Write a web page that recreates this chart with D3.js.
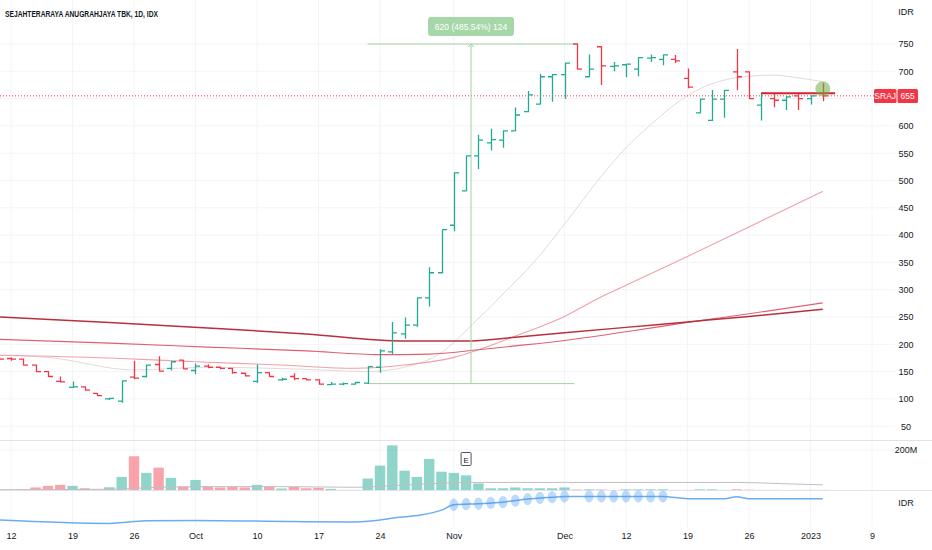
<!DOCTYPE html>
<html>
<head>
<meta charset="utf-8">
<script src="https://cdn.jsdelivr.net/npm/d3@7"></script>
<style>
    body { margin: 0; background: #ffffff; }
    svg { display: block; font-family: "Liberation Sans Narrow", "Liberation Sans", Arial, sans-serif; }
</style>
</head>
<body>
<svg id="chart" width="932" height="550"></svg>
<script>
// =============================================================================
// data
// =============================================================================
var title = "SEJAHTERARAYA ANUGRAHJAYA TBK, 1D, IDX";
var firstIndex = -1;   // index of the first bar, 0 = Sep 12

var opens  = [176,174,173,162,150,132,121,122,110,100, 96,140,141,163,156,171,152,160,158,156,147,132,148,135,141,137,135,126,127,127,129,158,186,219,235,285,331,418,481,545,569,574,591,626,640,690,694,750,690,745,709,712,704,724,722,722,687,624,610,649,699,699,638,650,647,655,650,660];
var highs  = [177,175,173,162,150,140,131,122,110,101,133,169,162,177,168,171,164,162,158,156,147,162,148,138,146,137,135,130,129,130,159,190,240,248,285,340,410,514,545,583,594,591,633,663,694,694,715,750,730,745,716,713,725,730,730,729,704,649,665,665,740,699,660,660,654,660,655,678];
var lows   = [172,171,162,150,141,131,121,116,106, 99, 94,137,140,151,153,155,146,157,155,147,142,130,141,134,135,135,127,126,126,127,128,149,183,211,233,270,331,408,481,522,556,561,591,626,640,645,650,704,690,676,701,690,692,718,712,716,670,624,610,616,666,650,611,635,630,630,640,646];
var closes = [173,173,162,150,141,131,122,116,106,101,133,138,162,151,168,155,160,158,156,148,142,148,141,136,137,135,127,127,128,130,159,188,221,235,285,331,410,514,545,574,575,591,620,657,690,694,715,704,704,710,710,713,725,725,730,719,671,649,649,665,690,650,660,647,653,650,655,655];
var volumes = [3,3,6,15,23,28,23,11,6,16,67,169,87,113,62,20,52,18,15,18,15,28,18,10,18,11,13,8,3,3,59,123,223,98,67,156,93,87,75,35,11,11,15,11,11,11,15,5,6,5,2,6,6,6,6,3,3,6,6,3,6,4,3,3,2,3,3,3];

// moving averages on price, [bar index, value]
var ma200Pts = [[-1,250],[8,240],[16,230],[24,219],[32,206],[37,206],[41,213],[45,221],[50,231],[55,241],[60,251],[66,264]];
var ma100Pts = [[-1,209],[8,202],[16,195],[24,188],[30,181],[34,182],[38,190],[41,197],[45,207],[50,223],[55,240],[60,256],[66,276]];
var ma50Pts  = [[-1,180],[8,175],[15,168],[22,162],[28,156],[32,162],[36,176],[38,190],[41,215],[45,251],[48,287],[50,308],[55,361],[60,415],[66,480]];
var ma20Pts  = [[-1,180],[3,176],[10,153],[16,158],[24,154],[29,150],[32,158],[35,185],[37.5,236],[40,292],[42.5,350],[45,420],[48,508],[50,560],[52,602],[54,640],[56,668],[58,684],[60,691],[62,693],[64,688],[66,681]];

// volume average, [bar index, millions]
var volMaPts = [[-1,4],[8,6],[12,16],[16,19],[22,19],[28,16],[31,24],[34,33],[37,40],[45,40],[52,40],[59,40],[63,33],[66,28]];

// lower pane indicator, [bar index, value]
var indPts = [[-1,2.1],[8,1.2],[11,1.9],[15,2.0],[23,1.7],[28,1.6],[31.6,2.8],[33.3,3.4],[35,4.7],[36,6.1],[38,6.4],[40,6.8],[42,7.6],[43,7.9],[44,8.1],[45,8.3],[53,8.3],[55,7.7],[58,7.7],[59,8.2],[60,7.7],[66,7.7]];
var indMarkers = [[36,6.1],[37,6.3],[38,6.4],[39,6.6],[40,6.8],[41,7.2],[42,7.6],[43,7.9],[44,8.1],[45,8.3],[47,8.3],[48,8.3],[49,8.3],[50,8.3],[51,8.3],[52,8.3],[53,8.3]];

// axes
var priceGrid = [50,100,150,200,250,300,350,400,450,500,550,600,650,700,750];
var priceLabels = [50,100,150,200,250,300,350,400,450,500,550,600,700,750];   // 650 sits under the badge
var dateTickIdx = [0,5,10,15,20,25,30,36,45,50,55,60,65,70];
var dateTickLabels = ["12","19","26","Oct","10","17","24","Nov","Dec","12","19","26","2023","9"];

// drawings
var lastPrice = 655;
var measureLow = 128, measureHigh = 750, measureFrom = 29, measureTo = 45.8;
var measureText = "620 (485.54%) 124";
var levelPrice = 660, levelFrom = 61, levelTo = 67;
var earningsIdx = 37;

// =============================================================================
// colours
// =============================================================================
var UP = "#22ab94", DOWN = "#f23645";
var UP_VOL = "rgba(34,171,148,0.5)", DOWN_VOL = "rgba(242,54,69,0.45)";
var GRID = "#f2f4f9", SEP = "#e0e3eb", TEXT = "#131722";

// =============================================================================
// scales
// =============================================================================
var plotRight = 895;
var x = d3.scaleLinear().domain([0, 70]).range([11, 872]);
var y = d3.scaleLinear().domain([50, 750]).range([426.2, 44]);
var yVol = d3.scaleLinear().domain([0, 200]).range([490.5, 450]);
var yInd = d3.scaleLinear().domain([0, 10]).range([528, 490]);

var bars = opens.map(function (o, k) {
    return { i: firstIndex + k, o: o, h: highs[k], l: lows[k], c: closes[k], v: volumes[k] };
});

var svg = d3.select("#chart");
svg.append("rect").attr("width", 932).attr("height", 550).attr("fill", "#ffffff");

var defs = svg.append("defs");
defs.append("clipPath").attr("id", "clipPrice").append("rect")
    .attr("x", 0).attr("y", 0).attr("width", plotRight).attr("height", 440);
defs.append("clipPath").attr("id", "clipVol").append("rect")
    .attr("x", 0).attr("y", 441).attr("width", plotRight).attr("height", 49);
defs.append("clipPath").attr("id", "clipInd").append("rect")
    .attr("x", 0).attr("y", 491).attr("width", plotRight).attr("height", 36);

// grid ========================================================================
var grid = svg.append("g");
grid.selectAll("line.v").data(dateTickIdx).enter().append("line")
    .attr("x1", function (d) { return x(d); }).attr("x2", function (d) { return x(d); })
    .attr("y1", 0).attr("y2", 527)
    .attr("stroke", GRID).attr("stroke-width", 1);
grid.selectAll("line.h").data(priceGrid).enter().append("line")
    .attr("x1", 0).attr("x2", plotRight)
    .attr("y1", function (d) { return y(d); }).attr("y2", function (d) { return y(d); })
    .attr("stroke", GRID).attr("stroke-width", 1);
grid.append("line")
    .attr("x1", 0).attr("x2", plotRight).attr("y1", yVol(200)).attr("y2", yVol(200))
    .attr("stroke", GRID);
[440.5, 490.5].forEach(function (yy) {
    grid.append("line").attr("x1", 0).attr("x2", 932).attr("y1", yy).attr("y2", yy)
        .attr("stroke", SEP).attr("stroke-width", 1);
});

// =============================================================================
// price pane
// =============================================================================
var pricePane = svg.append("g").attr("clip-path", "url(#clipPrice)");

var maLine = d3.line()
    .x(function (d) { return x(d[0]); })
    .y(function (d) { return y(d[1]); })
    .curve(d3.curveMonotoneX);

pricePane.append("path").datum(ma20Pts).attr("d", maLine)
    .attr("fill", "none").attr("stroke", "#e6d8db").attr("stroke-width", 1);
pricePane.append("path").datum(ma50Pts).attr("d", maLine)
    .attr("fill", "none").attr("stroke", "#f0a0a8").attr("stroke-width", 1.1);
pricePane.append("path").datum(ma100Pts).attr("d", maLine)
    .attr("fill", "none").attr("stroke", "#e06072").attr("stroke-width", 1.2);
pricePane.append("path").datum(ma200Pts).attr("d", maLine)
    .attr("fill", "none").attr("stroke", "#b8303c").attr("stroke-width", 1.5);

// last price line
pricePane.append("line")
    .attr("x1", 0).attr("x2", 874).attr("y1", y(lastPrice)).attr("y2", y(lastPrice))
    .attr("stroke", DOWN).attr("stroke-width", 1).attr("stroke-dasharray", "1,2");

// measure tool
var measure = pricePane.append("g").attr("stroke", "#9fd3a1").attr("stroke-width", 1);
var mMid = (measureFrom + measureTo) / 2;
measure.append("line").attr("x1", x(measureFrom)).attr("x2", x(measureTo))
    .attr("y1", y(measureHigh)).attr("y2", y(measureHigh));
measure.append("line").attr("x1", x(measureFrom)).attr("x2", x(measureTo))
    .attr("y1", y(measureLow)).attr("y2", y(measureLow));
measure.append("line").attr("x1", x(mMid)).attr("x2", x(mMid))
    .attr("y1", y(measureHigh)).attr("y2", y(measureLow));
measure.append("path").attr("fill", "none")
    .attr("d", "M" + (x(mMid) - 3) + "," + (y(measureHigh) + 3) + "L" + x(mMid) + "," + y(measureHigh) + "L" + (x(mMid) + 3) + "," + (y(measureHigh) + 3));
svg.append("rect")
    .attr("x", x(mMid) - 43).attr("y", 17).attr("width", 86).attr("height", 19).attr("rx", 3)
    .attr("fill", "#a6d7a8");
svg.append("text")
    .attr("x", x(mMid)).attr("y", 29.5).attr("text-anchor", "middle")
    .attr("font-size", 8.5).attr("fill", "#ffffff")
    .text(measureText);

// OHLC bars
pricePane.selectAll("path.bar").data(bars).enter().append("path")
    .attr("class", "bar")
    .attr("d", function (d) {
        var cx = Math.round(x(d.i)) + 0.5;
        return "M" + (cx - 4.5) + "," + y(d.o) + "H" + cx +
            "M" + cx + "," + (y(d.h) - 0.5) + "V" + (y(d.l) + 0.5) +
            "M" + cx + "," + y(d.c) + "H" + (cx + 4.5);
    })
    .attr("fill", "none")
    .attr("stroke", function (d) { return d.c >= d.o ? UP : DOWN; })
    .attr("stroke-width", 1.3);

// horizontal level drawn on the chart
pricePane.append("line")
    .attr("x1", x(levelFrom)).attr("x2", x(levelTo))
    .attr("y1", y(levelPrice)).attr("y2", y(levelPrice))
    .attr("stroke", "#d8232f").attr("stroke-width", 2);

// highlight on the last bar
pricePane.append("circle")
    .attr("cx", x(bars[bars.length - 1].i)).attr("cy", y(668)).attr("r", 7.5)
    .attr("fill", "rgba(110,175,70,0.55)");

// =============================================================================
// volume pane
// =============================================================================
var volPane = svg.append("g").attr("clip-path", "url(#clipVol)");
volPane.selectAll("rect.vol").data(bars).enter().append("rect")
    .attr("x", function (d) { return x(d.i) - 5.2; })
    .attr("width", 10.4)
    .attr("y", function (d) { return yVol(d.v); })
    .attr("height", function (d) { return yVol(0) - yVol(d.v); })
    .attr("fill", function (d) { return d.c >= d.o ? UP_VOL : DOWN_VOL; });

var volLine = d3.line()
    .x(function (d) { return x(d[0]); })
    .y(function (d) { return yVol(d[1]); })
    .curve(d3.curveMonotoneX);
volPane.append("path").datum(volMaPts).attr("d", volLine)
    .attr("fill", "none").attr("stroke", "#c4bcc4").attr("stroke-width", 1);

// earnings marker
var eg = svg.append("g");
eg.append("rect")
    .attr("x", x(earningsIdx) - 5).attr("y", 452.5).attr("width", 10).attr("height", 13).attr("rx", 1)
    .attr("fill", "#ffffff").attr("stroke", "#50535e").attr("stroke-width", 1);
eg.append("text")
    .attr("x", x(earningsIdx)).attr("y", 462.5).attr("text-anchor", "middle")
    .attr("font-size", 8).attr("fill", TEXT).text("E");

// =============================================================================
// indicator pane
// =============================================================================
var indPane = svg.append("g").attr("clip-path", "url(#clipInd)");
var indLine = d3.line()
    .x(function (d) { return x(d[0]); })
    .y(function (d) { return yInd(d[1]); })
    .curve(d3.curveMonotoneX);
indPane.append("path").datum(indPts).attr("d", indLine)
    .attr("fill", "none").attr("stroke", "#6aaef2").attr("stroke-width", 1.5);
svg.selectAll("ellipse.mk").data(indMarkers).enter().append("ellipse")
    .attr("cx", function (d) { return x(d[0]); })
    .attr("cy", function (d) { return yInd(d[1]); })
    .attr("rx", 4.4).attr("ry", 6.2)
    .attr("fill", "rgba(66,150,240,0.35)");

// =============================================================================
// axes
// =============================================================================
var priceAxis = svg.append("g")
    .attr("transform", "translate(897,0)")
    .call(d3.axisRight(y).tickValues(priceLabels).tickSize(0).tickPadding(9));
priceAxis.select(".domain").remove();
priceAxis.selectAll("text")
    .attr("text-anchor", "middle").attr("font-size", 9).attr("fill", TEXT);

var volAxis = svg.append("g")
    .attr("transform", "translate(897,0)")
    .call(d3.axisRight(yVol).tickValues([200]).tickSize(0).tickPadding(9)
        .tickFormat(function (d) { return d + "M"; }));
volAxis.select(".domain").remove();
volAxis.selectAll("text").attr("text-anchor", "middle").attr("font-size", 9).attr("fill", TEXT);

svg.append("text").attr("x", 906).attr("y", 15).attr("text-anchor", "middle")
    .attr("font-size", 9).attr("fill", TEXT).text("IDR");
svg.append("text").attr("x", 906).attr("y", 506).attr("text-anchor", "middle")
    .attr("font-size", 9).attr("fill", TEXT).text("IDR");

var dateAxis = svg.append("g")
    .attr("transform", "translate(0,530)")
    .call(d3.axisBottom(x).tickValues(dateTickIdx).tickSize(0).tickPadding(3)
        .tickFormat(function (d, k) { return dateTickLabels[k]; }));
dateAxis.select(".domain").remove();
dateAxis.selectAll("text").attr("font-size", 9).attr("fill", TEXT);

// last price badge
var badge = svg.append("g");
badge.append("rect").attr("x", 874).attr("y", 89).attr("width", 22.5).attr("height", 14)
    .attr("rx", 1.5).attr("fill", DOWN);
badge.append("rect").attr("x", 897.5).attr("y", 89).attr("width", 20.5).attr("height", 14)
    .attr("rx", 1.5).attr("fill", DOWN);
badge.append("text").attr("x", 885.2).attr("y", y(lastPrice) + 3).attr("text-anchor", "middle")
    .attr("font-size", 8.5).attr("fill", "#ffffff").text("SRAJ");
badge.append("text").attr("x", 907.7).attr("y", y(lastPrice) + 3).attr("text-anchor", "middle")
    .attr("font-size", 8.5).attr("fill", "#ffffff").text(lastPrice);

// title
svg.append("text")
    .attr("x", 5).attr("y", 16.7)
    .attr("font-size", 8.8).attr("font-weight", 700).attr("fill", TEXT)
    .attr("textLength", 153).attr("lengthAdjust", "spacingAndGlyphs")
    .text(title);
</script>
</body>
</html>
